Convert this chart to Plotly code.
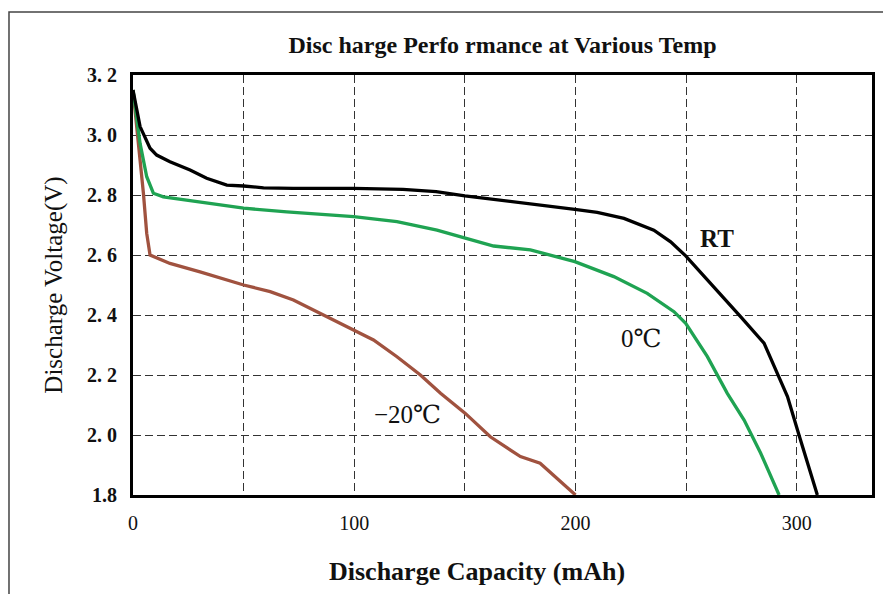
import plotly.graph_objects as go

# ---- data ----
rt_cap = [0, 3.2, 7.7, 10.7, 16.7, 25.8, 33.3, 42.4, 50, 59, 72.4, 99.7, 122, 137, 150, 166, 179.6, 199.7, 209.8, 221.9, 235.4, 243, 249.8, 262.6, 274.7, 285.2, 291.2, 295.8, 301, 305.6, 309.3]
rt_volt = [3.15, 3.028, 2.956, 2.933, 2.911, 2.883, 2.856, 2.833, 2.83, 2.824, 2.822, 2.822, 2.819, 2.811, 2.797, 2.783, 2.772, 2.752, 2.742, 2.722, 2.683, 2.644, 2.597, 2.494, 2.394, 2.306, 2.206, 2.128, 2.0, 1.894, 1.8]

c0_cap = [0, 3.2, 6.2, 9.2, 13.7, 24.3, 39.4, 50, 69.5, 87.6, 99.7, 119.3, 137.4, 150.2, 163, 179.6, 199.7, 217.3, 232.4, 244.5, 249.8, 259.6, 268.6, 276.2, 283.7, 292]
c0_volt = [3.15, 2.972, 2.861, 2.806, 2.794, 2.783, 2.767, 2.756, 2.744, 2.733, 2.728, 2.711, 2.683, 2.656, 2.63, 2.617, 2.578, 2.528, 2.472, 2.411, 2.372, 2.261, 2.139, 2.05, 1.939, 1.8]

m20_cap = [0, 1.7, 4.7, 6.2, 7.7, 16.7, 30.3, 50, 62, 72.5, 86.1, 99.7, 108.7, 119.3, 129.9, 139, 150.2, 161.5, 175.1, 184, 200]
m20_volt = [3.15, 3.028, 2.806, 2.672, 2.6, 2.572, 2.544, 2.5, 2.478, 2.45, 2.4, 2.35, 2.317, 2.261, 2.2, 2.139, 2.072, 1.994, 1.928, 1.906, 1.8]

x_tick_vals = [0, 50, 100, 150, 200, 250, 300]
x_tick_text = ["0", "", "100", "", "200", "", "300"]
y_tick_vals = [1.8, 2.0, 2.2, 2.4, 2.6, 2.8, 3.0, 3.2]
y_tick_text = ["1.8", "2. 0", "2. 2", "2. 4", "2. 6", "2. 8", "3. 0", "3. 2"]

series_labels = ["RT", "0℃", "−20℃"]
label_x = [264, 229.5, 124]
label_y = [2.655, 2.323, 2.07]

SERIF = "Liberation Serif, DejaVu Serif, serif"

# the page body has an 8px default margin, so the figure is 8px smaller
W, H = 883, 586

fig = go.Figure()
fig.add_trace(go.Scatter(x=m20_cap, y=m20_volt, mode="lines", name="−20℃",
                         line=dict(color="#a0523f", width=3.3)))
fig.add_trace(go.Scatter(x=c0_cap, y=c0_volt, mode="lines", name="0℃",
                         line=dict(color="#1fa352", width=3.3)))
fig.add_trace(go.Scatter(x=rt_cap, y=rt_volt, mode="lines", name="RT",
                         line=dict(color="#000000", width=3.3)))

for i, (lab, lx, ly) in enumerate(zip(series_labels, label_x, label_y)):
    fig.add_annotation(x=lx, y=ly, text=lab, showarrow=False,
                       font=dict(family=SERIF, size=25, color="#111",
                                 weight="bold" if i == 0 else "normal"))

# x-axis title (sits slightly left of the plot centre in the reference)
fig.add_annotation(xref="paper", yref="paper", x=0.4655, y=-0.1833,
                   xanchor="center", yanchor="middle", showarrow=False,
                   text="Discharge Capacity (mAh)",
                   font=dict(family=SERIF, size=26, color="#111", weight="bold"))

fig.update_layout(
    width=W, height=H,
    margin=dict(l=125, r=19, t=67, b=99),
    paper_bgcolor="white", plot_bgcolor="white",
    showlegend=False,
    title=dict(text="Disc harge Perfo rmance at Various Temp",
               x=0.5, xref="paper", xanchor="center",
               y=1 - 37 / H, yanchor="middle",
               font=dict(family=SERIF, size=24, color="#111", weight="bold")),
    xaxis=dict(range=[0, 334], tickmode="array", tickvals=x_tick_vals, ticktext=x_tick_text,
               showgrid=True, gridcolor="#333", griddash="8px,4px", gridwidth=1.3,
               showline=True, linecolor="black", linewidth=3, mirror=True,
               zeroline=False, ticks="", ticklabelstandoff=8,
               tickfont=dict(family=SERIF, size=20, color="#111")),
    yaxis=dict(range=[1.8, 3.2], tickmode="array", tickvals=y_tick_vals, ticktext=y_tick_text,
               showgrid=True, gridcolor="#333", griddash="8px,4px", gridwidth=1.3,
               showline=True, linecolor="black", linewidth=3, mirror=True,
               zeroline=False, ticks="", ticklabelstandoff=9,
               tickfont=dict(family=SERIF, size=20, color="#111", weight="bold"),
               title=dict(text="Discharge Voltage(V)", standoff=18,
                          font=dict(family=SERIF, size=25, color="#111"))),
    shapes=[dict(type="rect", xref="paper", yref="paper",
                 x0=-0.1678, x1=1.3, y0=-0.5, y1=1.15,
                 line=dict(color="#444", width=1.5), layer="below")],
)

fig.write_html("out.html")
